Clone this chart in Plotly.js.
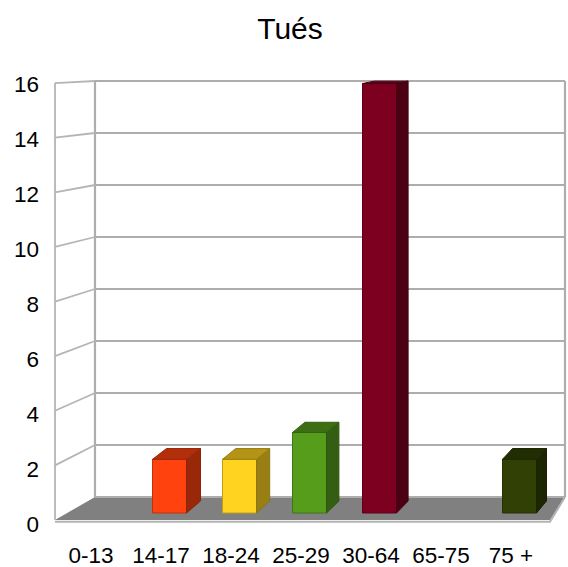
<!DOCTYPE html>
<html>
<head>
<meta charset="utf-8">
<script src="https://cdn.plot.ly/plotly-3.0.1.min.js"></script>
<style>html,body{margin:0;padding:0;background:#fff;}#chart{width:568px;height:567px;}</style>
</head>
<body>
<div id="chart"></div>
<script>
// ---- data ----
const chartTitle = 'Tués';
const categories = ['0-13', '14-17', '18-24', '25-29', '30-64', '65-75', '75 +'];
const values = [0, 2, 2, 3, 16, 0, 2];
const barColors = ['#004586', '#ff420e', '#ffd320', '#579d1c', '#7e0021', '#83caff', '#314004'];
const yTicks = [0, 2, 4, 6, 8, 10, 12, 14, 16];

// ---- pseudo-3D geometry (styling only) ----
const FONT = 'Liberation Sans, Arial, sans-serif';
const barWidth = 0.4857, barOffset = -0.1214;
const wallX = {frontLeft: -0.5143, backLeft: 0.0571, backRight: 6.7714, frontRight: 6.5571};
const backY = v => (27 + 26 * v) / 27.5;      // back wall, in label-axis units
const frontY = v => (4 + 27.31 * v) / 27.5;   // front edge of side wall
const depthX = i => (14.8 - 0.8 * i) / 70;    // bar depth, horizontal part
const depthY = v => (12 - 0.6 * v) / 26.84;   // bar depth, vertical part

function shade(hex, f) {
  const n = parseInt(hex.slice(1), 16);
  const r = Math.round(((n >> 16) & 255) * f), g = Math.round(((n >> 8) & 255) * f), b = Math.round((n & 255) * f);
  return 'rgb(' + r + ',' + g + ',' + b + ')';
}

const traces = [];
const yMax = yTicks[yTicks.length - 1], yMin = yTicks[0];

// floor
traces.push({
  type: 'scatter', mode: 'lines', xaxis: 'x', yaxis: 'y',
  x: [wallX.frontLeft, wallX.backLeft, wallX.backRight, wallX.frontRight, wallX.frontLeft],
  y: [frontY(yMin), backY(yMin), backY(yMin), frontY(yMin), frontY(yMin)],
  fill: 'toself', fillcolor: '#808080', line: {width: 0}, hoverinfo: 'skip'
});
// floor front edge
traces.push({
  type: 'scatter', mode: 'lines', xaxis: 'x', yaxis: 'y',
  x: [wallX.frontLeft, wallX.frontRight, wallX.backRight],
  y: [frontY(yMin) - 0.06, frontY(yMin) - 0.06, backY(yMin)],
  line: {color: '#b3b3b3', width: 2}, hoverinfo: 'skip'
});
// back wall grid lines + edges
const gx = [], gy = [];
yTicks.forEach(v => { gx.push(wallX.backLeft, wallX.backRight, null); gy.push(backY(v), backY(v), null); });
gx.push(wallX.backLeft, wallX.backLeft, null, wallX.backRight, wallX.backRight, null);
gy.push(backY(yMin), backY(yMax), null, backY(yMin), backY(yMax), null);
traces.push({type: 'scatter', mode: 'lines', x: gx, y: gy, line: {color: '#adadad', width: 2.2}, hoverinfo: 'skip'});
// side wall lines
const sx = [], sy = [];
yTicks.forEach(v => { if (v > yMin) { sx.push(wallX.frontLeft, wallX.backLeft, null); sy.push(frontY(v), backY(v), null); } });
sx.push(wallX.frontLeft, wallX.frontLeft, null);
sy.push(frontY(yMin), frontY(yMax), null);
traces.push({type: 'scatter', mode: 'lines', x: sx, y: sy, line: {color: '#b5b5b5', width: 1.8}, hoverinfo: 'skip'});

// bar side and top faces
categories.forEach((c, i) => {
  const v = values[i];
  if (v <= 0) return;
  const xl = i + barOffset, xr = xl + barWidth, dx = depthX(i);
  traces.push({
    type: 'scatter', mode: 'lines', xaxis: 'x', yaxis: 'y2',
    x: [xr, xr + dx, xr + dx, xr, xr],
    y: [0, depthY(0), v + depthY(v), v, 0],
    fill: 'toself', fillcolor: shade(barColors[i], 0.6), line: {color: shade(barColors[i], 0.55), width: 1}, hoverinfo: 'skip'
  });
  traces.push({
    type: 'scatter', mode: 'lines', xaxis: 'x', yaxis: 'y2',
    x: [xl, xl + dx, xr + dx, xr, xl],
    y: [v, v + depthY(v), v + depthY(v), v, v],
    fill: 'toself', fillcolor: shade(barColors[i], 0.7), line: {color: shade(barColors[i], 0.6), width: 1}, hoverinfo: 'skip'
  });
});

// bar front faces
traces.push({
  type: 'bar', xaxis: 'x', yaxis: 'y2',
  x: categories.map((c, i) => i), y: values,
  width: barWidth, offset: barOffset,
  marker: {color: barColors, line: {color: barColors.map(c => shade(c, 0.75)), width: values.map(v => v > 0 ? 1 : 0)}},
  hoverinfo: 'skip'
});

const layout = {
  width: 568, height: 567,
  margin: {l: 45, r: 0, t: 70, b: 35},
  paper_bgcolor: '#ffffff', plot_bgcolor: 'rgba(0,0,0,0)',
  showlegend: false, hovermode: false,
  title: {text: chartTitle, font: {family: FONT, size: 30, color: '#000'}, x: 290 / 568, xref: 'container', xanchor: 'center', y: 1 - 28 / 567, yref: 'container', yanchor: 'middle'},
  xaxis: {range: [-0.6571, 6.8143], tickvals: categories.map((c, i) => i), ticktext: categories,
          showgrid: false, zeroline: false, showline: false, ticks: '', ticklabelstandoff: 7,
          tickfont: {family: FONT, size: 22.5, color: '#000'}},
  yaxis: {range: [-0.2909, 16.509], tickvals: yTicks, ticktext: yTicks.map(String),
          showgrid: false, zeroline: false, showline: false, ticks: '', ticklabelstandoff: 5,
          tickfont: {family: FONT, size: 22.5, color: '#000'}},
  yaxis2: {range: [-0.7079, 16.505], overlaying: 'y', visible: false, showgrid: false, zeroline: false}
};

Plotly.newPlot('chart', traces, layout, {staticPlot: true, displayModeBar: false});
</script>
</body>
</html>
